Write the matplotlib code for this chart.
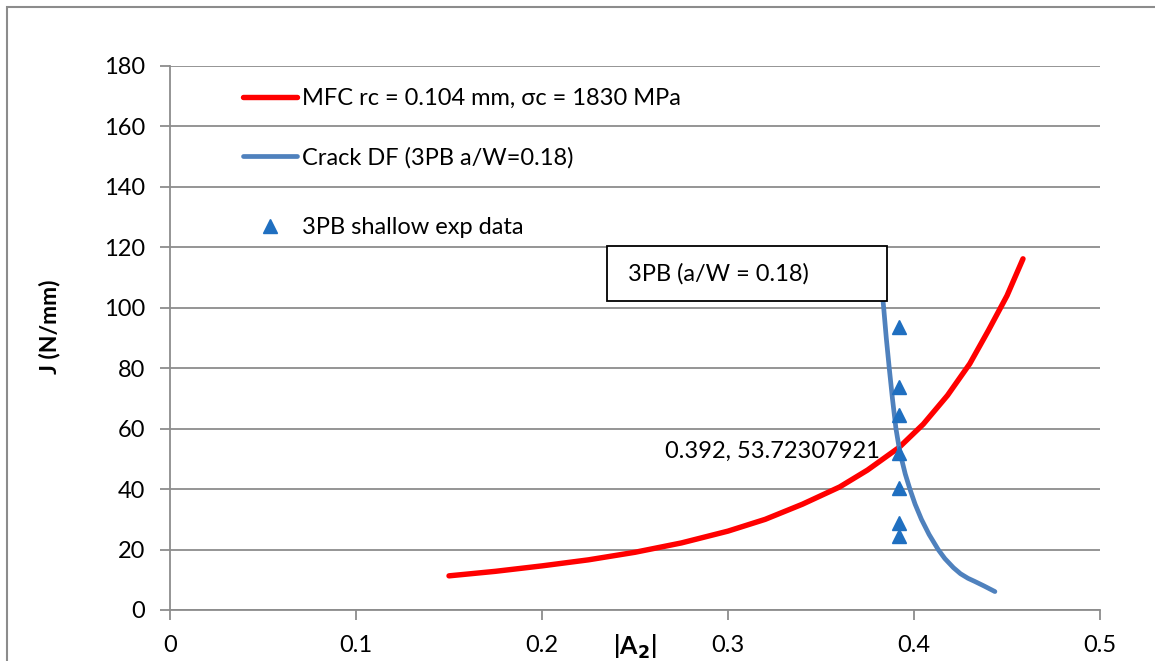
import numpy as np
import matplotlib
matplotlib.use('Agg')
import matplotlib.pyplot as plt
from matplotlib.patches import Rectangle

plt.rcParams['font.family'] = ['Lato', 'DejaVu Sans']

# MFC curve (red)
mfc_x = [0.15, 0.175, 0.20, 0.225, 0.25, 0.275, 0.30, 0.32, 0.34, 0.36, 0.375, 0.392,
         0.405, 0.418, 0.43, 0.44, 0.45, 0.4586]
mfc_y = [11.3, 12.8, 14.6, 16.6, 19.1, 22.2, 26.1, 30.0, 35.0, 40.7, 46.3, 53.8,
         61.5, 71.0, 81.5, 92.5, 104.0, 116.2]

# crack driving force curve (blue)
df_x = [0.3822, 0.3834, 0.3837, 0.3851, 0.3867, 0.3884, 0.3903, 0.392, 0.3933, 0.3953, 0.3978,
        0.4006, 0.404, 0.4081, 0.413, 0.4166, 0.4212, 0.425, 0.429, 0.4325, 0.4375, 0.4435]
df_y = [112, 102, 100, 90, 80, 70, 60, 53.7, 50, 45, 40,
        35, 30, 25, 20, 17, 14, 12, 10.5, 9.5, 8.0, 6.1]

# experimental points
exp_x = [0.392, 0.392, 0.392, 0.392, 0.392, 0.392, 0.392]
exp_y = [93.8, 73.7, 64.5, 52.1, 40.3, 28.9, 24.5]

cross_x, cross_y = 0.392, 53.72307921

fig = plt.figure(figsize=(11.55, 6.61), dpi=100)
ax = fig.add_axes([170/1155, 1 - 610/661, 930/1155, 544/661])

# chart frame
fig.patches.append(Rectangle((7/1155, -0.1), 1.2, 1 - 7/661 + 0.1, transform=fig.transFigure,
                             fill=False, edgecolor='#8c8c8c', linewidth=1.5))

l1, = ax.plot(mfc_x, mfc_y, '-', color='#ff0000', linewidth=3.9, solid_capstyle='round',
              label='MFC rc = 0.104 mm, σc = 1830 MPa', zorder=3)
l2, = ax.plot(df_x, df_y, '-', color='#4f81bd', linewidth=3.4, solid_capstyle='round',
              label='Crack DF (3PB a/W=0.18)', zorder=3)
l3, = ax.plot(exp_x, exp_y, '^', color='#1f6fc0', markersize=10, linestyle='none',
              label='3PB shallow exp data', zorder=4)

ax.annotate('%.3f, %.8f' % (cross_x, cross_y), xy=(cross_x, cross_y), xytext=(-19, -4),
            textcoords='offset pixels', ha='right', va='center', fontsize=17, color='black')

# text box
ax.add_patch(Rectangle((0.235, 102.2), 0.1505, 18.2, facecolor='white', edgecolor='black',
                       linewidth=1.3, zorder=6))
ax.text(0.2465, 111.3, '3PB (a/W = 0.18)', fontsize=17, va='center', ha='left', zorder=7)

ax.set_xlim(0, 0.5)
ax.set_ylim(0, 180)
ax.set_xticks([0, 0.1, 0.2, 0.3, 0.4, 0.5])
ax.set_xticklabels(['0', '0.1', '0.2', '0.3', '0.4', '0.5'])
ax.set_yticks(np.arange(0, 181, 20))
ax.grid(True, axis='y', color='#8c8c8c', linewidth=1.3)
ax.set_axisbelow(True)
for s in ['top', 'right']:
    ax.spines[s].set_visible(False)
for s in ['left', 'bottom']:
    ax.spines[s].set_color('#8c8c8c')
    ax.spines[s].set_linewidth(1.3)
ax.tick_params(axis='both', colors='#8c8c8c', labelcolor='black', labelsize=17, length=7, width=1.3)
ax.tick_params(axis='x', pad=11)
ax.tick_params(axis='y', pad=11)

fig.text(50/1155, 1 - 327/661, 'J (N/mm)', rotation=90, fontsize=16.5, fontweight='bold',
         ha='center', va='center')
fig.text(635/1155, 1 - 647/661, '|A$_\\mathbf{2}$|', fontsize=18, fontweight='bold',
         ha='center', va='center')

leg_kw = dict(loc='upper left', frameon=False, fontsize=17, handlelength=2.3,
              handletextpad=0.2, borderaxespad=0, borderpad=0)
leg1 = ax.legend(handles=[l1, l2], bbox_to_anchor=(0.078, 0.959), labelspacing=1.6, **leg_kw)
ax.add_artist(leg1)
ax.legend(handles=[l3], bbox_to_anchor=(0.078, 0.722), **leg_kw)

plt.savefig('out.png', dpi=100)
